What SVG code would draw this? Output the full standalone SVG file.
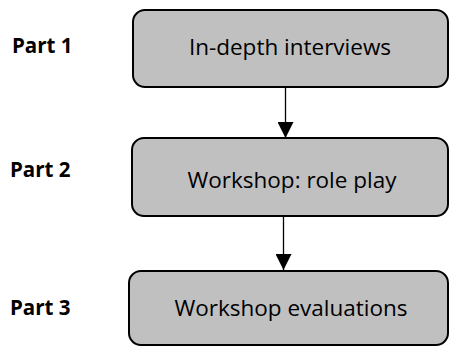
<svg xmlns="http://www.w3.org/2000/svg" width="450" height="347" viewBox="0 0 450 347">
<style>
.box{fill:#c0c0c0;stroke:#000;stroke-width:2}
.lbl{font-family:"Open Sans","Liberation Sans",sans-serif;font-size:22.5px;fill:#000;text-anchor:middle}
.part{font-family:"Open Sans","Liberation Sans",sans-serif;font-size:20.5px;font-weight:bold;fill:#000}
.con{stroke:#000;stroke-width:1.3;fill:none}
</style>
<defs>
<marker id="ah" markerWidth="16" markerHeight="16" refX="16" refY="8" orient="auto" markerUnits="userSpaceOnUse">
<path d="M0,0 L16,8 L0,16 Z" fill="#000"/>
</marker>
</defs>
<g id="connectors">
<line class="con" x1="285.5" y1="88" x2="285.5" y2="138" marker-end="url(#ah)"/>
<line class="con" x1="283.5" y1="217" x2="283.5" y2="270" marker-end="url(#ah)"/>
</g>
<g id="part1"><text class="part" x="12" y="53">Part 1</text></g>
<g id="part2"><text class="part" x="10" y="177">Part 2</text></g>
<g id="part3"><text class="part" x="10" y="315">Part 3</text></g>
<g id="node1">
<rect class="box" x="133" y="10" width="315" height="77" rx="12"/>
<text class="lbl" x="290" y="55">In-depth interviews</text>
</g>
<g id="node2">
<rect class="box" x="132" y="138" width="316" height="78" rx="12"/>
<text class="lbl" x="292" y="188">Workshop: role play</text>
</g>
<g id="node3">
<rect class="box" x="129" y="271" width="319" height="74" rx="12"/>
<text class="lbl" x="291" y="316">Workshop evaluations</text>
</g>
</svg>
